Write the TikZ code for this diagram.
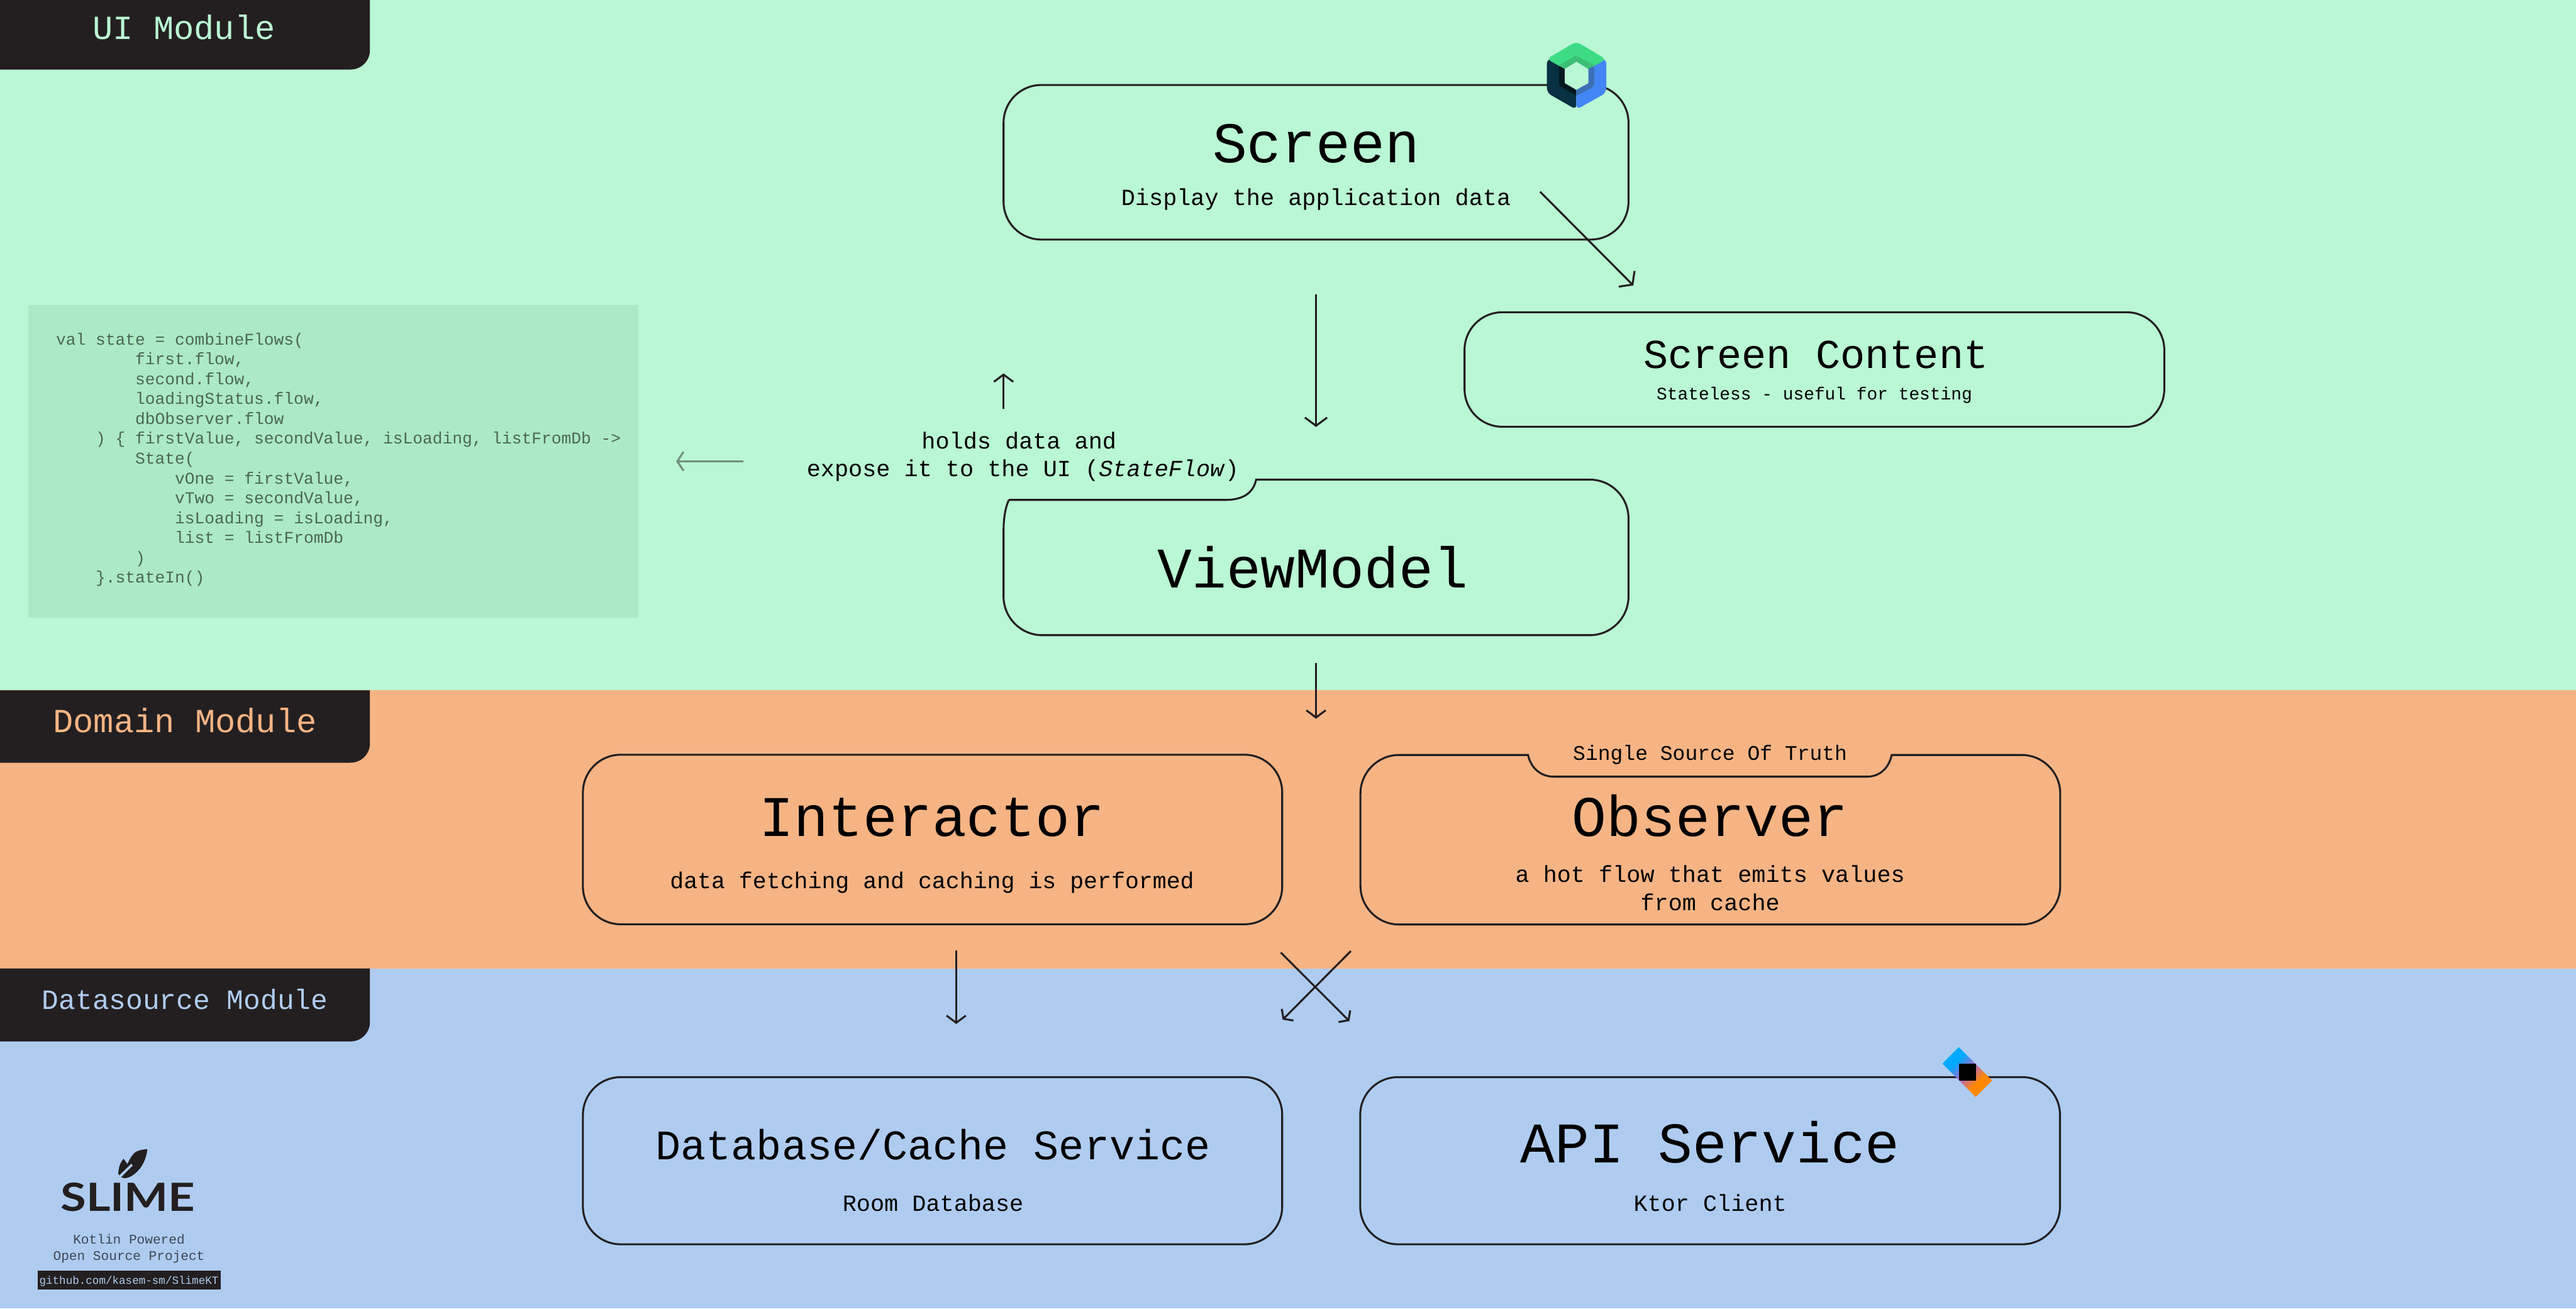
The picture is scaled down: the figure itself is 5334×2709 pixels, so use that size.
\documentclass[tikz,border=0pt]{standalone}
\usepackage{fontspec}
\setsansfont{Lato}
\setmonofont{Liberation Mono}
\usepackage{tikz}
\usetikzlibrary{arrows.meta,calc}
\definecolor{uibg}{HTML}{BAF7D4}
\definecolor{domainbg}{HTML}{F6B484}
\definecolor{sourcebg}{HTML}{AFCCF0}
\definecolor{codebg}{HTML}{ABEAC4}
\definecolor{codetext}{HTML}{4B6754}
\definecolor{ink}{HTML}{231F20}
\definecolor{fadedar}{HTML}{6F8F7C}
\definecolor{footnote}{HTML}{3D4653}
\definecolor{composegreen}{HTML}{3DDC84}
\definecolor{composeband}{HTML}{3ABF75}
\definecolor{composenavy}{HTML}{073042}
\definecolor{composeblack}{HTML}{04181F}
\definecolor{composeblue}{HTML}{4285F4}
\definecolor{composesteel}{HTML}{3B70B5}
\definecolor{ideblue}{HTML}{00AAFF}
\definecolor{idemid}{HTML}{B065C8}
\definecolor{ideorange}{HTML}{FF8800}
\pgfdeclarehorizontalshading{ideshade}{100bp}{color(0bp)=(ideblue);color(35bp)=(ideblue);color(50bp)=(idemid);color(65bp)=(ideorange);color(100bp)=(ideorange)}
\newcommand{\fsize}[1]{\fontsize{#1pt}{#1pt}\selectfont}
\begin{document}
\begin{tikzpicture}[
  x=0.1pt,y=-0.1pt,
  font=\ttfamily,
  box/.style={draw=ink,line width=.4pt,rounded corners=7.8pt,inner sep=0pt},
  boxline/.style={draw=ink,line width=.4pt},
  title/.style={font=\ttfamily\fsize{11.9},text=black,anchor=base,inner sep=0pt},
  midtitle/.style={font=\ttfamily\fsize{8.7},text=black,anchor=base,inner sep=0pt},
  sub/.style={font=\ttfamily\fsize{4.8},text=black,anchor=base,inner sep=0pt},
  tabtext/.style={anchor=base,inner sep=0pt},
  ar/.style={-{Straight Barb[length=1.5pt,width=4pt]},draw=ink,line width=.4pt},
  crossar/.style={-{Straight Barb[length=1.2pt,width=3.4pt]},draw=ink,line width=.4pt},
  bigar/.style={-{Straight Barb[length=1.7pt,width=4.6pt]},draw=ink,line width=.4pt},
  farar/.style={-{Straight Barb[length=1.3pt,width=3.9pt]},draw=fadedar,line width=.4pt}]
\useasboundingbox (0,0) rectangle (5334,2709);
\fill[uibg] (0,0) rectangle (5334,1428);
\fill[domainbg] (0,1428) rectangle (5334,2005);
\fill[sourcebg] (0,2005) rectangle (5334,2709);
\fill[ink] (0,0) -- (766,0) -- (766,104) .. controls (766,126) and (748,144) .. (726,144) -- (0,144) -- cycle;
\fill[ink] (0,1429) -- (766,1429) -- (766,1539) .. controls (766,1561) and (748,1579) .. (726,1579) -- (0,1579) -- cycle;
\fill[ink] (0,2005) -- (766,2005) -- (766,2116) .. controls (766,2138) and (748,2156) .. (726,2156) -- (0,2156) -- cycle;
\node[tabtext,font=\ttfamily\fsize{7},text=uibg] (uitab) at (381,82) {UI Module};
\node[tabtext,font=\ttfamily\fsize{7},text=domainbg] (domaintab) at (383,1516) {Domain Module};
\node[tabtext,font=\ttfamily\fsize{5.8},text=sourcebg] (sourcetab) at (383,2090) {Datasource Module};
\node[box,minimum width=129.4pt,minimum height=32pt] (screen) at (2725,336) {};
\node[title] (screentitle) at (2725,337) {Screen};
\node[sub] (screensub) at (2725,425) {Display the application data};
\node[box,minimum width=144.9pt,minimum height=23.7pt] (content) at (3757,765) {};
\node[midtitle,font=\ttfamily\fsize{8.5}] (contenttitle) at (3760,763) {Screen Content};
\node[sub,font=\ttfamily\fsize{3.63}] (contentsub) at (3757,828) {Stateless - useful for testing};
\fill[codebg] (58,631) rectangle (1322,1279);
\node[anchor=north west,inner sep=0pt,align=left,text=codetext,font=\ttfamily\fontsize{3.42pt}{4.11pt}\selectfont] (code) at (114,687) {%
val state = combineFlows(\\
~~~~~~~~first.flow,\\
~~~~~~~~second.flow,\\
~~~~~~~~loadingStatus.flow,\\
~~~~~~~~dbObserver.flow\\
~~~~) \{ firstValue, secondValue, isLoading, listFromDb ->\\
~~~~~~~~State(\\
~~~~~~~~~~~~vOne = firstValue,\\
~~~~~~~~~~~~vTwo = secondValue,\\
~~~~~~~~~~~~isLoading = isLoading,\\
~~~~~~~~~~~~list = listFromDb\\
~~~~~~~~)\\
~~~~\}.stateIn()};
\node[sub] (holds) at (2110,929) {holds data and};
\node[sub] (expose) at (2118,986) {expose it to the UI (\textit{StateFlow})};
\draw[boxline] (2089,1035) -- (2537,1035) .. controls (2575,1035) and (2595,1020) .. (2601,993)
  -- (3292,993) .. controls (3336,993) and (3372,1029) .. (3372,1073)
  -- (3372,1235) .. controls (3372,1279) and (3336,1315) .. (3292,1315)
  -- (2158,1315) .. controls (2114,1315) and (2078,1279) .. (2078,1235)
  -- (2078,1100) .. controls (2078,1075) and (2081,1052) .. (2089,1035);
\node[title] (viewmodel) at (2718,1217) {ViewModel};
\node[box,minimum width=144.8pt,minimum height=35.1pt] (interactor) at (1931,1738) {};
\node[title] (interactortitle) at (1930,1732) {Interactor};
\node[sub,font=\ttfamily\fsize{4.76}] (interactorsub) at (1930,1839) {data fetching and caching is performed};
\draw[boxline] (3164,1563) .. controls (3170,1590) and (3190,1608) .. (3218,1608)
  -- (3865,1608) .. controls (3893,1608) and (3911,1590) .. (3917,1563)
  -- (4186,1563) .. controls (4230,1563) and (4266,1599) .. (4266,1643)
  -- (4266,1834) .. controls (4266,1878) and (4230,1914) .. (4186,1914)
  -- (2897,1914) .. controls (2853,1914) and (2817,1878) .. (2817,1834)
  -- (2817,1643) .. controls (2817,1599) and (2853,1563) .. (2897,1563) -- cycle;
\node[sub,font=\ttfamily\fsize{4.3}] (truth) at (3541,1574) {Single Source Of Truth};
\node[title] (observer) at (3541,1732) {Observer};
\node[sub] (observersub) at (3541,1827) {a hot flow that emits values};
\node[sub] (observercache) at (3541,1885) {from cache};
\node[box,minimum width=144.8pt,minimum height=34.6pt] (database) at (1931,2403) {};
\node[midtitle] (databasetitle) at (1932,2401) {Database/Cache Service};
\node[sub] (databasesub) at (1932,2508) {Room Database};
\node[box,minimum width=144.9pt,minimum height=34.6pt] (api) at (3541,2403) {};
\node[title] (apititle) at (3541,2407) {API Service};
\node[sub] (apisub) at (3541,2508) {Ktor Client};
\coordinate (screenout) at (2725,610);
\coordinate (viewin) at (2725,884);
\draw[bigar] (screenout) -- (viewin);
\coordinate (diagstart) at (3189,397);
\coordinate (diagend) at (3382,591);
\draw[bigar] (diagstart) -- (diagend);
\coordinate (upstart) at (2078,846);
\coordinate (upend) at (2078,773);
\draw[ar] (upstart) -- (upend);
\coordinate (codestart) at (1539,955);
\coordinate (codeend) at (1400,955);
\draw[farar] (codestart) -- (codeend);
\coordinate (viewout) at (2725,1373);
\coordinate (domainin) at (2725,1488);
\draw[ar] (viewout) -- (domainin);
\coordinate (leftout) at (1980,1968);
\coordinate (leftin) at (1980,2120);
\draw[ar] (leftout) -- (leftin);
\coordinate (crossa) at (2797,1969);
\coordinate (crossb) at (2656,2111);
\coordinate (crossc) at (2652,1972);
\coordinate (crossd) at (2794,2114);
\draw[crossar] (crossa) -- (crossb);
\draw[crossar] (crossc) -- (crossd);
\fill[composenavy,rounded corners=1pt] (3264,120) -- (3203,122) -- (3203,192) -- (3264,227) -- (3264,160) -- cycle;
\fill[composeblue,rounded corners=1pt] (3264,120) -- (3326,122) -- (3326,192) -- (3264,227) -- cycle;
\fill[composeblack] (3240,143) -- (3240,172) -- (3264,186) -- (3264,198) -- (3236,182) -- (3228,175) -- (3228,135) -- cycle;
\fill[composesteel] (3289,143) -- (3289,172) -- (3264,186) -- (3264,198) -- (3296,182) -- (3301,175) -- (3301,135) -- cycle;
\fill[composegreen,rounded corners=1pt] (3264,86) -- (3326,123) -- (3289,143) -- (3264,128) -- (3240,143) -- (3203,122) -- cycle;
\fill[composeband] (3264,115) -- (3301,135) -- (3289,143) -- (3264,128) -- (3240,143) -- (3228,135) -- cycle;
\fill[uibg] (3264,128) -- (3289,143) -- (3289,172) -- (3264,186) -- (3240,172) -- (3240,143) -- cycle;
\shade[shading=ideshade,shading angle=-45] (4056,2168) -- (4125,2237) -- (4091,2271) -- (4022,2202) -- cycle;
\fill[black] (4056,2202) rectangle (4091,2237);
\fill[ink] (305,2379) .. controls (293,2380) and (286,2382) .. (281,2385) .. controls (274,2390) and (268,2400) .. (264,2410) .. controls (261,2406) and (258,2402) .. (256,2399) .. controls (250,2405) and (245,2417) .. (245,2430) -- (247,2433) -- (272,2409) -- (275,2413) -- (251,2437) .. controls (254,2439) and (257,2439) .. (260,2439) .. controls (268,2438) and (274,2434) .. (279,2430) .. controls (294,2418) and (303,2400) .. (305,2379) -- cycle;
\node[anchor=base,inner sep=0pt,font=\sffamily\bfseries\fsize{8.05},text=ink] (slime) at (265,2508) {\scalebox{1.2}[1]{SLIME}};
\node[anchor=base,inner sep=0pt,font=\ttfamily\fsize{2.75},text=footnote] (powered) at (267,2575) {Kotlin Powered};
\node[anchor=base,inner sep=0pt,font=\ttfamily\fsize{2.75},text=footnote] (project) at (267,2609) {Open Source Project};
\fill[ink] (78,2630) rectangle (457,2670);
\node[anchor=base,inner sep=0pt,font=\ttfamily\fsize{2.29},text=sourcebg] (repo) at (267,2658) {github.com/kasem-sm/SlimeKT};
\end{tikzpicture}
\end{document}
